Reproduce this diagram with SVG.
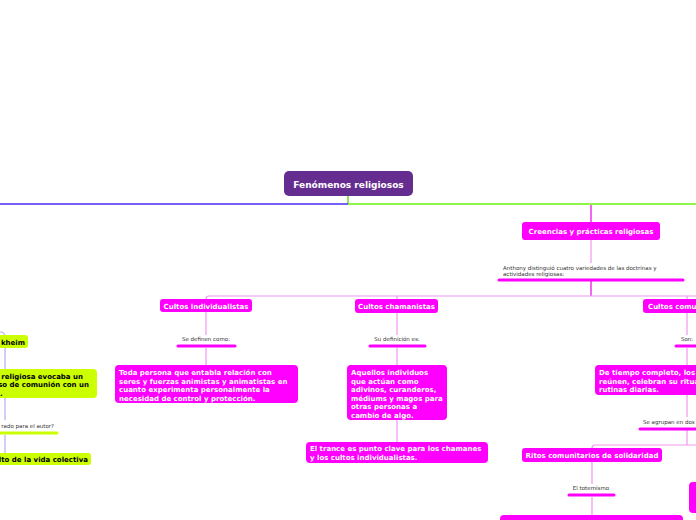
<svg xmlns="http://www.w3.org/2000/svg" width="696" height="520" viewBox="0 0 696 520">
<style>
.n{fill:#ff00ff}
.g{fill:#ccff00}
.t{font-family:"DejaVu Sans",Verdana,sans-serif;font-weight:bold;font-size:7px;fill:#ffffff}
.tb{font-family:"DejaVu Sans",Verdana,sans-serif;font-weight:bold;font-size:7px;fill:#000000}
.l{font-family:"DejaVu Sans",Verdana,sans-serif;font-size:5.5px;fill:#333333}
.bar{stroke:#ff00ff;stroke-width:3;stroke-linecap:round}
.gbar{stroke:#ccff00;stroke-width:3;stroke-linecap:round}
.c{stroke:#f295f2;fill:none;stroke-width:1.2}
.cm{stroke:#e600e6;fill:none;stroke-width:1.2}
.cl{stroke:#b9a9f2;fill:none;stroke-width:1.2}
</style>
<rect width="696" height="520" fill="#ffffff"/>
<g id="connectors">
<path d="M348,196 V204" stroke="#6ad92a" stroke-width="1.5" fill="none"/>
<path d="M348,204 H0" stroke="#4b2bf5" stroke-width="1.5" fill="none"/>
<path d="M348,204 H696" stroke="#6cf010" stroke-width="1.5" fill="none"/>
<path class="cm" d="M591,205 V222"/>
<path class="c" d="M591,240 V263"/>
<path class="cm" d="M591,281 V296"/>
<path class="c" d="M206,299 V299 Q206,296 209,296 H696"/>
<path class="c" d="M397,296 V299"/>
<path class="c" d="M687,296 V299"/>
<path class="c" d="M206,312 V335"/>
<path class="c" d="M206,348 V365"/>
<path class="c" d="M397,313 V335"/>
<path class="c" d="M397,348 V365"/>
<path class="c" d="M397,420 V442"/>
<path class="c" d="M687,313 V335"/>
<path class="c" d="M687,348 V365"/>
<path class="c" d="M687,395 V417"/>
<path class="c" d="M687,430 V445"/>
<path class="c" d="M592,448 Q592,445 595,445 H696"/>
<path class="c" d="M592,462 V484"/>
<path class="c" d="M592,497 V515"/>
<path class="cl" d="M0,332 Q5,332 5,337 V398"/>
<path class="cl" d="M5,398 V420"/>
<path class="cl" d="M5,435 V453"/>
</g>
<g id="root">
<rect x="284" y="171" width="129" height="25" rx="5" fill="#662d91"/>
<text x="348.5" y="187.5" text-anchor="middle" class="t" style="font-size:9px">Fenómenos religiosos</text>
</g>
<g id="creencias">
<rect class="n" x="522" y="222" width="138" height="18" rx="3"/>
<text class="t" x="591" y="234" text-anchor="middle">Creencias y prácticas religiosas</text>
</g>
<g id="anthony">
<text class="l" x="503" y="270">Anthony distinguió cuatro variedades de las doctrinas y</text>
<text class="l" x="503" y="276">actividades religiosas:</text>
<line class="bar" x1="499" y1="280" x2="683" y2="280"/>
</g>
<g id="individualistas">
<rect class="n" x="160" y="299" width="92" height="13" rx="3"/>
<text class="t" x="206" y="308.5" text-anchor="middle">Cultos individualistas</text>
</g>
<g id="se-definen">
<text class="l" x="206" y="341" text-anchor="middle">Se definen como:</text>
<line class="bar" x1="178" y1="346" x2="235" y2="346"/>
</g>
<g id="toda-persona">
<rect class="n" x="115" y="365" width="183" height="38" rx="4"/>
<text class="t" x="119" y="375">Toda persona que entabla relación con</text>
<text class="t" x="119" y="383.5">seres y fuerzas animistas y animatistas en</text>
<text class="t" x="119" y="392">cuanto experimenta personalmente la</text>
<text class="t" x="119" y="400.5">necesidad de control y protección.</text>
</g>
<g id="chamanistas">
<rect class="n" x="355" y="299" width="83" height="14" rx="3"/>
<text class="t" x="396.5" y="308.5" text-anchor="middle">Cultos chamanistas</text>
</g>
<g id="su-definicion">
<text class="l" x="397" y="341" text-anchor="middle">Su definición es:</text>
<line class="bar" x1="370" y1="346" x2="425" y2="346"/>
</g>
<g id="aquellos">
<rect class="n" x="347" y="365" width="100" height="55" rx="4"/>
<text class="t" x="351" y="375">Aquellos individuos</text>
<text class="t" x="351" y="383.5">que actúan como</text>
<text class="t" x="351" y="392">adivinos, curanderos,</text>
<text class="t" x="351" y="400.5">médiums y magos para</text>
<text class="t" x="351" y="409">otras personas a</text>
<text class="t" x="351" y="417.5">cambio de algo.</text>
</g>
<g id="trance">
<rect class="n" x="306" y="442" width="182" height="21" rx="4"/>
<text class="t" x="310" y="451">El trance es punto clave para los chamanes</text>
<text class="t" x="310" y="459.5">y los cultos individualistas.</text>
</g>
<g id="comunitarios">
<rect class="n" x="643" y="299" width="88" height="14" rx="3"/>
<text class="t" x="648" y="308.5">Cultos comunitarios</text>
</g>
<g id="son">
<text class="l" x="687" y="341" text-anchor="middle">Son:</text>
<line class="bar" x1="676" y1="346" x2="700" y2="346"/>
</g>
<g id="tiempo-completo">
<rect class="n" x="595" y="365" width="184" height="30" rx="4"/>
<text class="t" x="599" y="375">De tiempo completo, los</text>
<text class="t" x="599" y="383.5">reúnen, celebran su ritual</text>
<text class="t" x="599" y="392">rutinas diarias.</text>
</g>
<g id="se-agrupan">
<text class="l" x="643" y="423.5">Se agrupan en dos</text>
<line class="bar" x1="640" y1="429" x2="702" y2="429"/>
</g>
<g id="ritos">
<rect class="n" x="522" y="448" width="140" height="14" rx="3"/>
<text class="t" x="592" y="457.5" text-anchor="middle">Ritos comunitarios de solidaridad</text>
</g>
<g id="totemismo">
<text class="l" x="591" y="490" text-anchor="middle">El totemismo</text>
<line class="bar" x1="569" y1="495" x2="614" y2="495"/>
</g>
<g id="totem-def">
<rect class="n" x="500" y="515" width="183" height="20" rx="4"/>
</g>
<g id="rito-2">
<rect class="n" x="689" y="482" width="80" height="31" rx="4"/>
</g>
<g id="durkheim">
<rect class="g" x="-20" y="335" width="48" height="13" rx="3"/>
<text class="tb" x="25" y="344.5" text-anchor="end">kheim</text>
</g>
<g id="experiencia">
<rect class="g" x="-100" y="369" width="197" height="29" rx="4"/>
<text class="tb" x="83" y="378.5" text-anchor="end">a religiosa evocaba un</text>
<text class="tb" x="89" y="387" text-anchor="end">so de comunión con un</text>
<text class="tb" x="0" y="395.5">.</text>
</g>
<g id="sagrado">
<text class="l" x="54" y="428" text-anchor="end">rado para el autor?</text>
<line class="gbar" x1="-5" y1="433" x2="57" y2="433"/>
</g>
<g id="culto">
<rect class="g" x="-60" y="453" width="151" height="12" rx="3"/>
<text class="tb" x="88" y="462" text-anchor="end">lto de la vida colectiva</text>
</g>
</svg>
